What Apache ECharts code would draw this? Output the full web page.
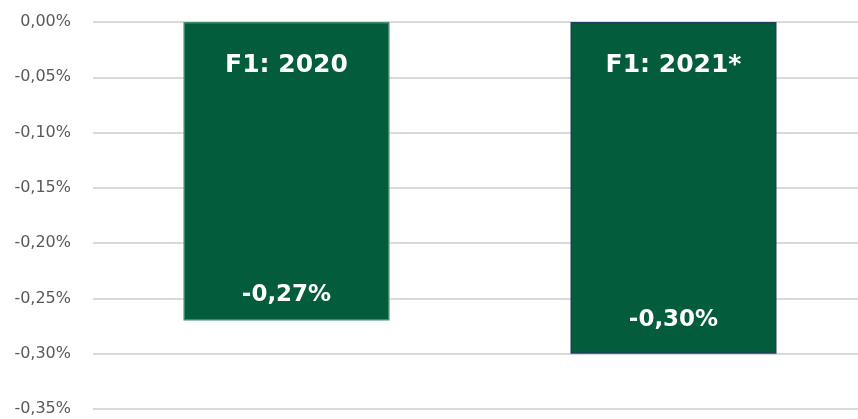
<!DOCTYPE html>
<html>
<head>
<meta charset="utf-8">
<script src="https://cdn.jsdelivr.net/npm/echarts@6/dist/echarts.min.js"></script>
<style>
  html, body { margin: 0; padding: 0; background: #fff; }
  #chart { width: 858px; height: 419px; }
</style>
</head>
<body>
<div id="chart"></div>
<script>
// data
const categories = ['F1: 2020', 'F1: 2021*'];
const values = [-0.27, -0.30];

const fmt = v => (Math.abs(v) < 1e-9 ? 0 : v).toFixed(2).replace('.', ',') + '%';

const labelGaps = [14, 22];
const borders = ['#3f8a6a', '#1f3f5f'];

const chart = echarts.init(document.getElementById('chart'));
chart.setOption({
  animation: false,
  textStyle: { fontFamily: 'DejaVu Sans' },
  grid: { left: 93, top: 22, width: 774, bottom: 10, outerBoundsMode: 'none', containLabel: false },
  xAxis: {
    type: 'category',
    position: 'top',
    data: categories,
    axisLine: { show: false },
    axisTick: { show: false },
    axisLabel: {
      inside: true,
      margin: 43,
      color: '#fff',
      fontWeight: 'bold',
      fontSize: 25,
      verticalAlign: 'middle'
    },
    z: 5
  },
  yAxis: {
    type: 'value',
    min: -0.35,
    max: 0,
    interval: 0.05,
    axisLine: { show: false },
    axisTick: { show: false },
    axisLabel: { color: '#595959', fontSize: 16, margin: 22, formatter: fmt },
    splitLine: { lineStyle: { color: '#d9d9d9', width: 2 } }
  },
  series: [{
    type: 'bar',
    barWidth: 206,
    data: values.map((v, i) => ({
      value: v,
      itemStyle: { borderColor: borders[i], borderWidth: 1.5 },
      label: { distance: labelGaps[i] }
    })),
    itemStyle: { color: '#035c3c' },
    label: {
      show: true,
      position: 'insideBottom',
      color: '#fff',
      fontWeight: 'bold',
      fontSize: 23,
      formatter: p => fmt(p.value)
    }
  }]
});
</script>
</body>
</html>
